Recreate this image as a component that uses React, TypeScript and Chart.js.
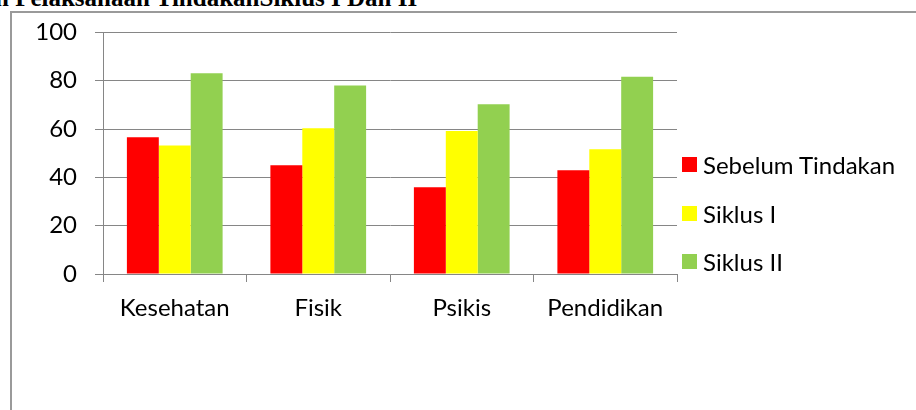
import React, { useEffect, useRef } from "react";
import { Chart, registerables } from "chart.js";

Chart.register(...registerables);

const categories = ["Kesehatan", "Fisik", "Psikis", "Pendidikan"];
const seriesNames = ["Sebelum Tindakan", "Siklus I", "Siklus II"];
const sebelumTindakan = [56.6, 45.0, 35.9, 42.9];
const siklusI = [53.2, 60.3, 59.2, 51.6];
const siklusII = [83.1, 78.0, 70.3, 81.6];
const seriesColors = ["#FF0000", "#FFFF00", "#92D050"];
const yMin = 0;
const yMax = 100;
const yStep = 20;
const titleText = "n Pelaksanaan TindakanSiklus I Dan II";

const FONT = "Lato";
const FONT_SIZE = 24;
const AXIS_GRAY = "#868686";

export default function App() {
  const canvasRef = useRef<HTMLCanvasElement | null>(null);

  useEffect(() => {
    const canvas = canvasRef.current;
    if (!canvas) return;
    const seriesValues = [sebelumTindakan, siklusI, siklusII];
    const chart = new Chart(canvas, {
      type: "bar",
      data: {
        labels: categories,
        datasets: seriesNames.map((name, i) => ({
          label: name,
          data: seriesValues[i],
          backgroundColor: seriesColors[i],
          borderWidth: 0,
          barPercentage: 1,
          categoryPercentage: 0.667,
        })),
      },
      options: {
        responsive: false,
        maintainAspectRatio: false,
        animation: false,
        layout: { padding: { left: 0, right: 239, top: 29, bottom: 0 } },
        plugins: {
          legend: { display: false },
          tooltip: { enabled: false },
          title: { display: false },
        },
        scales: {
          x: {
            grid: {
              display: true,
              drawOnChartArea: false,
              drawTicks: true,
              tickLength: 8,
              color: AXIS_GRAY,
              lineWidth: 1,
            },
            border: { display: true, color: AXIS_GRAY, width: 1 },
            ticks: {
              color: "#000",
              font: { family: FONT, size: FONT_SIZE },
              padding: 12,
              maxRotation: 0,
              autoSkip: false,
            },
            afterFit: (scale: any) => {
              scale.height = 410 - 274;
            },
          },
          y: {
            min: yMin,
            max: yMax,
            grid: {
              color: AXIS_GRAY,
              lineWidth: 1,
              drawTicks: true,
              tickLength: 8,
            },
            border: { display: true, color: AXIS_GRAY, width: 1 },
            ticks: {
              stepSize: yStep,
              color: "#000",
              font: { family: FONT, size: FONT_SIZE },
              padding: 18,
            },
            afterFit: (scale: any) => {
              scale.width = 103;
            },
          },
        },
      },
    });
    return () => chart.destroy();
  }, []);

  return (
    <div
      style={{
        position: "fixed",
        left: 0,
        top: 0,
        width: 916,
        height: 410,
        overflow: "hidden",
        background: "#fff",
      }}
    >
      <div
        style={{
          position: "absolute",
          left: 10,
          top: 11,
          width: 1200,
          height: 1200,
          borderLeft: "2px solid #9a9a9a",
          borderTop: "2px solid #9a9a9a",
        }}
      />
      <div
        style={{
          position: "absolute",
          left: -5,
          top: -15,
          whiteSpace: "nowrap",
          fontFamily: "'Liberation Serif', 'Times New Roman', serif",
          fontWeight: "bold",
          fontSize: 25,
          lineHeight: "25px",
          color: "#000",
        }}
      >
        {titleText}
      </div>
      <canvas
        ref={canvasRef}
        width={916}
        height={410}
        style={{ position: "absolute", left: 0, top: 0, width: 916, height: 410 }}
      />
      {seriesNames.map((name, i) => (
        <div
          key={name}
          style={{
            position: "absolute",
            left: 682,
            top: 157 + i * 48.5,
            height: 15,
            display: "flex",
            alignItems: "center",
            whiteSpace: "nowrap",
          }}
        >
          <div style={{ width: 15, height: 15, background: seriesColors[i] }} />
          <span
            style={{
              marginLeft: 6,
              fontFamily: FONT,
              fontSize: FONT_SIZE,
              lineHeight: "15px",
              color: "#000",
            }}
          >
            {name}
          </span>
        </div>
      ))}
    </div>
  );
}
